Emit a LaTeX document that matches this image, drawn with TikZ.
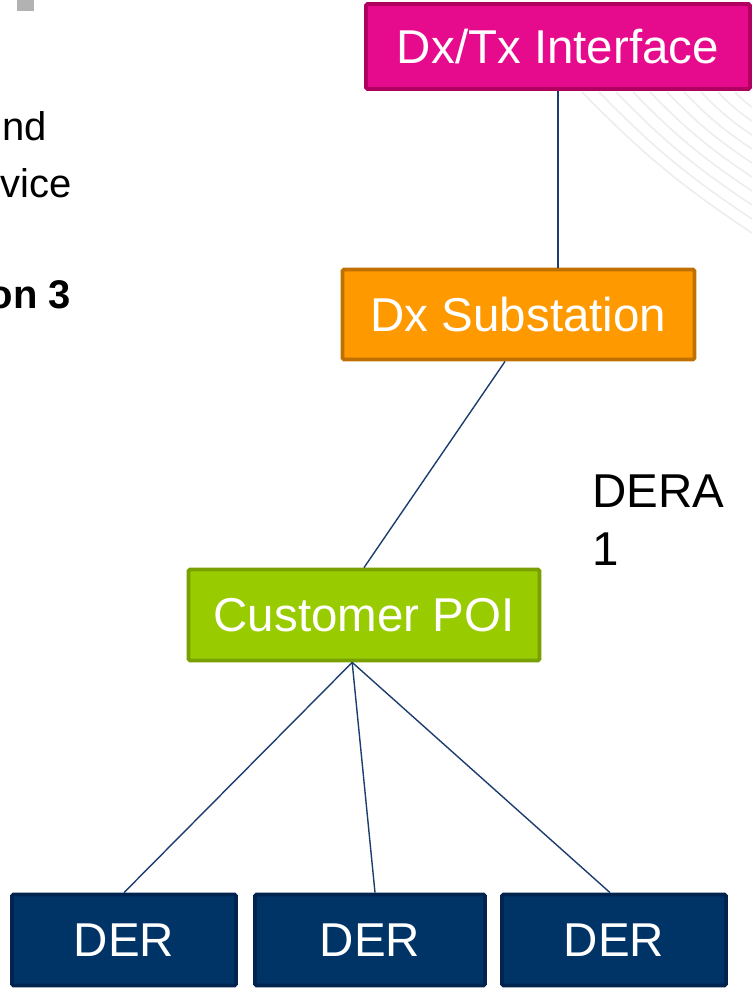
\documentclass[tikz,border=0pt]{standalone}
\usepackage{fontspec}
\setmainfont{Liberation Sans}
\usetikzlibrary{positioning}
\definecolor{dxpink}{HTML}{E60A8C}
\definecolor{dxpinkdark}{HTML}{B00060}
\definecolor{suborange}{HTML}{FF9900}
\definecolor{suborangedark}{HTML}{C07000}
\definecolor{poigreen}{HTML}{99CC00}
\definecolor{poigreendark}{HTML}{78A000}
\definecolor{dernavy}{HTML}{003366}
\definecolor{dernavydark}{HTML}{00244F}
\definecolor{linknavy}{HTML}{1C3D6E}

\begin{document}
\begin{tikzpicture}[x=1pt,y=-1pt]
    % styles
    \tikzset{box/.style={draw,line width=3.8pt,rounded corners=1.5pt,inner sep=0pt,
                         text=white,font=\fontsize{47.5}{57}\selectfont},
             link/.style={draw=linknavy,line width=1.4pt}}
    \useasboundingbox (0,0) rectangle (752,989);
    \clip (0,0) rectangle (752,989);

    % background swoosh
    \foreach \i in {0,...,9}
        \draw[gray!14,line width=1.6pt] (582+17*\i,92) to[bend right=6] (752,233-14*\i);
    \fill[gray!60] (17,0) rectangle (34,11);

    % cut-off slide text
    \node[anchor=base east,inner sep=0pt,font=\fontsize{40}{48}\selectfont] (t1) at (47,140) {nd};
    \node[anchor=base east,inner sep=0pt,font=\fontsize{40}{48}\selectfont] (t2) at (72,197) {vice};
    \node[anchor=base east,inner sep=0pt,font=\fontsize{40}{48}\selectfont\bfseries] (t3) at (71,308) {on 3};

    % nodes
    \node[box,fill=dxpink,draw=dxpinkdark,minimum width=384,minimum height=85] (dxtx) at (558,46.5) {Dx/Tx Interface};
    \node[box,fill=suborange,draw=suborangedark,minimum width=352,minimum height=90] (dxsub) at (518.5,314.5) {Dx Substation};
    \node[box,fill=poigreen,draw=poigreendark,minimum width=351,minimum height=91] (poi) at (364,615) {Customer POI};
    \node[box,fill=dernavy,draw=dernavydark,minimum width=224,minimum height=91] (der1) at (124,940) {DER};
    \node[box,fill=dernavy,draw=dernavydark,minimum width=230,minimum height=91] (der2) at (370,940) {DER};
    \node[box,fill=dernavy,draw=dernavydark,minimum width=224,minimum height=91] (der3) at (614,940) {DER};

    \node[anchor=base west,align=left,inner sep=0pt,font=\fontsize{47.5}{58}\selectfont] (dera) at (592,565) {DERA\\1};

    % edges
    \draw[link] (dxtx.south) -- (dxtx.south |- dxsub.north);
    \draw[link] (dxsub.-106) -- (poi.north);
    \draw[link] (poi.-104) -- (der1.north);
    \draw[link] (poi.-104) -- ([xshift=5pt]der2.north);
    \draw[link] (poi.-104) -- ([xshift=-4pt]der3.north);
\end{tikzpicture}
\end{document}
